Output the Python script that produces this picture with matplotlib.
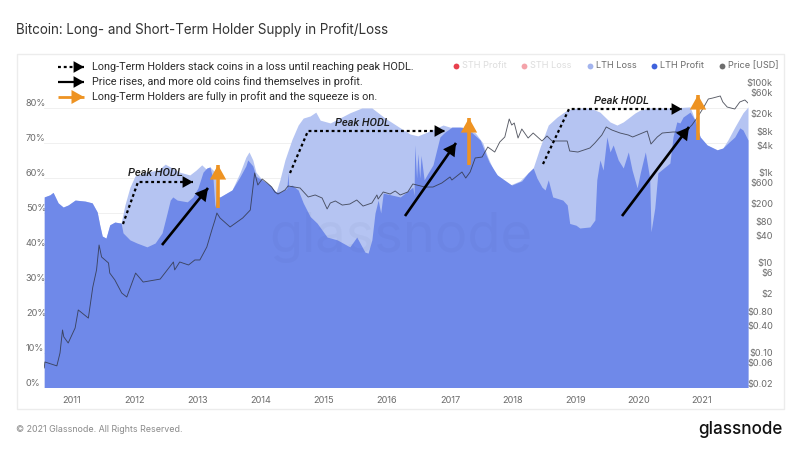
import matplotlib
matplotlib.use('Agg')
import matplotlib.pyplot as plt
from matplotlib.patches import Rectangle
from matplotlib.transforms import ScaledTranslation

# LTH supply (profit + loss), % of supply
total_years = [2010.56, 2010.65, 2010.70, 2010.78, 2010.86, 2010.94, 2011.05, 2011.21, 2011.32, 2011.40, 2011.44,
               2011.48, 2011.54, 2011.60, 2011.68, 2011.78, 2011.84, 2011.92, 2012.00, 2012.16, 2012.37, 2012.48,
               2012.59, 2012.71, 2012.87, 2012.97, 2013.06, 2013.13, 2013.19, 2013.27, 2013.30, 2013.35, 2013.54,
               2013.67, 2013.76, 2013.81, 2013.87, 2013.92, 2014.02, 2014.14, 2014.24, 2014.30, 2014.38, 2014.49,
               2014.59, 2014.67, 2014.78, 2014.87, 2014.94, 2015.10, 2015.25, 2015.41, 2015.60, 2015.76, 2015.97,
               2016.21, 2016.37, 2016.49, 2016.68, 2016.89, 2017.00, 2017.16, 2017.40, 2017.52, 2017.60, 2017.71,
               2017.84, 2017.95, 2018.11, 2018.24, 2018.32, 2018.43, 2018.56, 2018.70, 2018.86, 2019.02, 2019.22,
               2019.38, 2019.54, 2019.65, 2019.75, 2019.94, 2020.02, 2020.17, 2020.54, 2020.81, 2020.89, 2020.97,
               2021.08, 2021.24, 2021.33, 2021.41, 2021.52, 2021.65, 2021.73]
total_pct = [54.6, 55.2, 55.9, 52.9, 51.7, 52.3, 53.7, 53.4, 52.9, 50.3, 46.6,
             43.4, 42.8, 46.6, 47.4, 47.1, 52.3, 57.4, 60.6, 61.7, 62.3, 64.0,
             62.9, 61.7, 60.9, 62.3, 63.8, 62.6, 63.2, 61.7, 54.6, 54.6, 56.6,
             61.7, 66.0, 67.5, 65.2, 61.7, 59.5, 58.0, 56.0, 59.5, 65.2, 71.0,
             75.2, 77.2, 77.8, 78.9, 76.6, 75.8, 77.2, 78.7, 80.1, 80.1, 77.2,
             74.4, 72.6, 72.1, 73.5, 75.2, 74.6, 74.6, 73.0, 70.1, 66.0, 61.5,
             59.5, 58.0, 59.2, 61.5, 62.9, 68.9, 75.2, 77.5, 79.5, 80.1, 80.1,
             78.9, 76.1, 75.2, 76.1, 78.7, 79.5, 80.1, 80.1, 80.4, 76.6, 71.8,
             69.5, 68.1, 68.6, 70.9, 74.6, 78.7, 80.4]

profit_years = [2010.56, 2010.65, 2010.70, 2010.78, 2010.86, 2010.94, 2011.05, 2011.21, 2011.32, 2011.40, 2011.44,
                2011.48, 2011.54, 2011.60, 2011.68, 2011.78, 2011.81, 2011.92, 2012.03, 2012.19, 2012.32, 2012.43,
                2012.51, 2012.56, 2012.60, 2012.67, 2012.83, 2012.92, 2013.00, 2013.08, 2013.14, 2013.19, 2013.24,
                2013.27, 2013.30, 2013.35, 2013.54, 2013.67, 2013.76, 2013.79, 2013.87, 2013.92, 2014.02, 2014.14,
                2014.24, 2014.30, 2014.41, 2014.43, 2014.44, 2014.49, 2014.59, 2014.67, 2014.78, 2014.89, 2015.05,
                2015.21, 2015.41, 2015.52, 2015.65, 2015.70, 2015.76, 2015.81, 2015.86, 2015.90, 2015.94, 2016.21,
                2016.41, 2016.43, 2016.44, 2016.47, 2016.49, 2016.52, 2016.54, 2016.59, 2016.65, 2016.73, 2016.84,
                2016.92, 2017.03, 2017.19, 2017.35, 2017.48, 2017.56, 2017.62, 2017.75, 2017.98, 2018.14, 2018.24,
                2018.32, 2018.38, 2018.46, 2018.51, 2018.56, 2018.63, 2018.79, 2018.86, 2018.90, 2019.00, 2019.06,
                2019.22, 2019.30, 2019.33, 2019.38, 2019.43, 2019.49, 2019.54, 2019.59, 2019.67, 2019.75, 2019.83,
                2019.89, 2019.97, 2020.02, 2020.10, 2020.17, 2020.19, 2020.25, 2020.30, 2020.49, 2020.54, 2020.60,
                2020.65, 2020.70, 2020.81, 2020.89, 2020.97, 2021.08, 2021.24, 2021.33, 2021.41, 2021.52, 2021.60,
                2021.65, 2021.73]
profit_pct = [54.6, 55.2, 55.9, 52.9, 51.7, 52.3, 53.7, 53.4, 52.9, 50.3, 46.6,
              43.4, 42.8, 46.6, 47.4, 47.1, 44.3, 42.3, 41.4, 40.3, 41.4, 44.3,
              50.0, 53.7, 54.6, 53.7, 53.2, 54.6, 57.2, 61.7, 62.9, 63.2, 59.5,
              51.7, 54.6, 54.6, 56.6, 60.5, 63.5, 65.2, 63.5, 60.5, 59.5, 58.0,
              56.0, 56.0, 57.0, 61.5, 57.5, 58.0, 56.6, 52.9, 49.0, 47.1, 43.1,
              42.3, 40.3, 43.1, 38.8, 38.5, 42.3, 50.0, 53.7, 50.0, 55.7, 54.6,
              57.4, 55.0, 69.5, 60.0, 67.0, 60.0, 66.5, 59.5, 61.4, 63.8, 71.8,
              73.2, 74.6, 74.6, 73.0, 70.9, 67.2, 64.6, 60.9, 58.0, 59.2, 61.5,
              62.9, 60.0, 57.4, 56.6, 59.5, 54.6, 53.7, 52.3, 47.0, 46.5, 45.7,
              46.0, 48.0, 59.5, 65.2, 62.3, 71.8, 67.5, 69.5, 65.2, 62.9, 67.5,
              62.3, 57.2, 61.5, 67.5, 60.0, 44.6, 51.4, 61.5, 64.3, 71.8, 76.1,
              75.8, 77.5, 78.9, 76.6, 71.8, 69.5, 68.1, 68.6, 70.0, 71.8, 74.4,
              73.8, 70.9]

# BTC price, USD
price_years = [2010.56, 2010.57, 2010.76, 2010.81, 2010.85, 2010.87, 2010.94, 2011.05, 2011.10, 2011.26, 2011.33,
               2011.39, 2011.43, 2011.47, 2011.58, 2011.60, 2011.68, 2011.79, 2011.87, 2012.01, 2012.13, 2012.40,
               2012.61, 2012.63, 2012.71, 2012.85, 2012.95, 2013.03, 2013.14, 2013.22, 2013.27, 2013.30, 2013.35,
               2013.51, 2013.71, 2013.83, 2013.90, 2013.95, 2014.02, 2014.10, 2014.17, 2014.22, 2014.27, 2014.38,
               2014.43, 2014.62, 2014.75, 2014.86, 2014.97, 2015.05, 2015.10, 2015.18, 2015.29, 2015.41, 2015.52,
               2015.62, 2015.76, 2015.84, 2015.86, 2015.94, 2016.05, 2016.13, 2016.21, 2016.33, 2016.41, 2016.60,
               2016.73, 2016.87, 2017.00, 2017.03, 2017.19, 2017.25, 2017.32, 2017.40, 2017.51, 2017.60, 2017.71,
               2017.79, 2017.87, 2017.94, 2017.98, 2018.02, 2018.08, 2018.14, 2018.24, 2018.32, 2018.46, 2018.54,
               2018.62, 2018.86, 2018.90, 2019.03, 2019.22, 2019.30, 2019.41, 2019.48, 2019.57, 2019.70, 2019.83,
               2019.90, 2020.13, 2020.19, 2020.29, 2020.37, 2020.54, 2020.73, 2020.84, 2020.92, 2021.02, 2021.10,
               2021.17, 2021.29, 2021.33, 2021.40, 2021.52, 2021.60, 2021.68, 2021.73]
price_usd = [0.053, 0.072, 0.059, 0.114, 0.37, 0.26, 0.19, 0.41, 1.03, 0.68, 3.3,
             8.0, 28.6, 15.5, 11.4, 6.8, 4.8, 2.45, 2.0, 6.8, 4.3, 5.0,
             12, 8, 12, 10.3, 13.3, 13.3, 25.8, 61.6, 103, 147, 114,
             72, 114, 171, 1140, 617, 838, 682, 556, 431, 389, 477,
             586, 529, 334, 370, 317, 181, 245, 272, 221, 233, 286,
             210, 245, 370, 301, 431, 389, 454, 370, 431, 649, 556,
             556, 682, 929, 796, 1199, 881, 1199, 2455, 2582, 4305, 3330,
             5560, 7190, 18070, 13270, 14700, 6820, 10820, 6820, 8810, 5860, 7570,
             5860, 5860, 3510, 3330, 4090, 5290, 7960, 12000, 10280, 8810, 7960,
             7190, 9770, 5020, 7190, 8810, 9290, 9290, 13270, 19000, 31700, 50200,
             52800, 58600, 43100, 33300, 30100, 43100, 47800, 40900]

year_ticks = list(range(2011, 2022))
pct_ticks = [0, 10, 20, 30, 40, 50, 60, 70, 80]
price_ticks = [0.02, 0.06, 0.10, 0.40, 0.80, 2, 6, 10, 40, 80, 200, 600, 1000, 4000, 8000, 20000, 60000, 100000]
price_labels = ['$0.02', '$0.06', '$0.10', '$0.40', '$0.80', '$2', '$6', '$10', '$40', '$80', '$200', '$600',
                '$1k', '$4k', '$8k', '$20k', '$60k', '$100k']
legend_names = ['STH Profit', 'STH Loss', 'LTH Loss', 'LTH Profit', 'Price [USD]']

PROFIT = '#6f89e9'
LOSS = '#b5c4f2'
GREY = '#6b6b6b'
ORANGE = '#ee9322'

plt.rcParams['font.family'] = ['Inter', 'DejaVu Sans']

fig = plt.figure(figsize=(8, 4.5), dpi=100, facecolor='white')

# overlay in pixels for the card, legend and hand drawn arrows
page = fig.add_axes([0, 0, 1, 1], zorder=0)
page.set_xlim(0, 800)
page.set_ylim(450, 0)
page.axis('off')
page.add_patch(Rectangle((16.5, 54), 767, 355, facecolor='white', edgecolor='#ececec', lw=1))

ax = fig.add_axes([44 / 800, 1 - 387.5 / 450, 704 / 800, 315.5 / 450], zorder=1)
ax.patch.set_alpha(0)
ax.fill_between(total_years, total_pct, 0, color=LOSS, lw=0)
ax.fill_between(profit_years, profit_pct, 0, color=PROFIT, lw=0)
ax.set_xlim(2010.556, 2021.73)
ax.set_ylim(0, 90.4)
ax.set_xticks(year_ticks)
ax.set_yticks(pct_ticks)
ax.set_yticklabels([f'{p}%' for p in pct_ticks])
ax.tick_params(axis='x', length=0, pad=6, labelsize=6.6, labelcolor=GREY)
ax.tick_params(axis='y', length=0, pad=13, labelsize=6.6, labelcolor=GREY)
nudge = ScaledTranslation(0, -1.5 / 72, fig.dpi_scale_trans)
for lab in ax.get_yticklabels():
    lab.set_ha('left')
    lab.set_va('bottom')
ax.grid(axis='y', color='#f0f0f0', lw=0.7)
ax.set_axisbelow(True)
for s in ax.spines.values():
    s.set_visible(False)
ax.text(0.507, 0.475, 'glassnode', transform=ax.transAxes, ha='center', va='center', fontsize=39,
        color='#1a2a60', alpha=0.035)

price_ax = ax.twinx()
price_ax.set_yscale('log')
price_ax.plot(price_years, price_usd, color='#2f3340', lw=0.65, alpha=0.8)
price_ax.set_ylim(0.0195, 200000)
price_ax.set_yticks(price_ticks)
price_ax.set_yticklabels(price_labels)
price_ax.minorticks_off()
price_ax.tick_params(axis='y', length=0, pad=18, labelsize=6.6, labelcolor=GREY)
for lab in price_ax.get_yticklabels():
    lab.set_ha('right')
    lab.set_va('bottom')
    lab.set_transform(lab.get_transform() + nudge)
for s in price_ax.spines.values():
    s.set_visible(False)

# overlay on top for the arrows
top = fig.add_axes([0, 0, 1, 1], zorder=2)
top.set_xlim(0, 800)
top.set_ylim(450, 0)
top.axis('off')


def draw_arrow(points, color='black', dotted=False, lw=1.6, head=11):
    xs = [p[0] for p in points]
    ys = [p[1] for p in points]
    top.plot(xs, ys, color=color, lw=lw, ls=(0, (1.3, 1.3)) if dotted else '-', solid_capstyle='butt')
    top.annotate('', xy=points[-1], xytext=points[-2],
                 arrowprops=dict(arrowstyle='-|>,head_width=0.42,head_length=0.75', color=color, lw=0,
                                 mutation_scale=head, shrinkA=0, shrinkB=0))


draw_arrow([(58, 67), (84, 67)], dotted=True, head=10)
draw_arrow([(58, 82), (84, 82)], head=10)
draw_arrow([(58, 97), (84, 97)], color=ORANGE, lw=2.0, head=12)
notes = ['Long-Term Holders stack coins in a loss until reaching peak HODL.',
         'Price rises, and more old coins find themselves in profit.',
         'Long-Term Holders are fully in profit and the squeeze is on.']
for y, note in zip([67, 82, 97], notes):
    top.text(92.5, y, note, fontsize=7.8, color='#2b2b2b', va='center', family='Roboto')

draw_arrow([(123, 224), (138, 182), (193, 182)], dotted=True, head=10)
draw_arrow([(290, 173), (308, 131), (445, 131)], dotted=True, head=10)
draw_arrow([(543, 164), (569, 109), (682, 109)], dotted=True, head=10)
for x, y in [(155, 173), (362, 123), (621, 101)]:
    top.text(x, y, 'Peak HODL', fontsize=8, style='italic', weight='medium', color='#1c1c1c',
             ha='center', va='center', family='Roboto')
draw_arrow([(162, 245), (208, 188)], lw=1.9, head=12)
draw_arrow([(405, 216), (456, 143)], lw=1.9, head=12)
draw_arrow([(622, 216), (689, 127)], lw=1.9, head=12)
draw_arrow([(218, 208), (218, 165)], color=ORANGE, lw=2.6, head=14)
draw_arrow([(469, 165), (469, 118)], color=ORANGE, lw=2.6, head=14)
draw_arrow([(698, 140), (698, 95)], color=ORANGE, lw=2.6, head=14)

# legend
dot_x = [456, 524, 590, 654, 722]
dot_colors = ['#e8404d', '#f4a3aa', '#a3b4ee', '#3f62dc', '#6e6e6e']
text_colors = ['#dddddd', '#dddddd', GREY, GREY, GREY]
for x, c, tc, name in zip(dot_x, dot_colors, text_colors, legend_names):
    top.plot([x], [66], 'o', ms=4.2, color=c, mew=0)
    top.text(x + 6, 66, name, fontsize=6.6, color=tc, va='center')

top.text(16, 30, 'Bitcoin: Long- and Short-Term Holder Supply in Profit/Loss', fontsize=9.65, color='#333333', va='center')
top.text(16, 430, '\u00a9 2021 Glassnode. All Rights Reserved.', fontsize=6.4, color='#8a8a8a', va='center')
top.text(783, 429, 'glassnode', fontsize=12.3, color='#111111', va='center', ha='right', weight='medium')

fig.savefig('out.png', dpi=100)
